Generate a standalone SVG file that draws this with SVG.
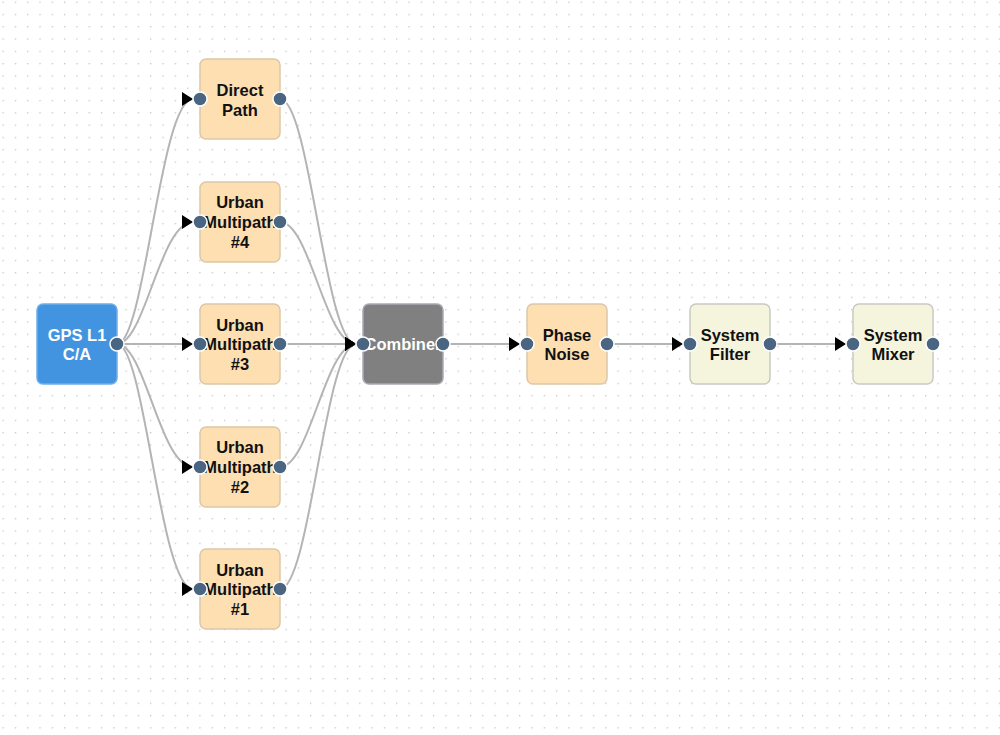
<svg xmlns="http://www.w3.org/2000/svg" width="1000" height="735" viewBox="0 0 1000 735">
<defs>
<pattern id="grid" x="2.5" y="1.5" width="12.3" height="12.3" patternUnits="userSpaceOnUse">
<circle cx="0.6" cy="0.6" r="0.75" fill="#c4c4c4"/>
</pattern>
<marker id="arr" markerUnits="userSpaceOnUse" markerWidth="12" markerHeight="16" refX="11" refY="7" orient="auto">
<path d="M0,0 L11,7 L0,14 Z" fill="#000"/>
</marker>
<style>
.n rect{stroke-width:1.5}
.orange rect{fill:#fddfb1;stroke:#dcc8a8}
.beige rect{fill:#f5f5dd;stroke:#c9c9c4}
.blue rect{fill:#4294e0;stroke:#6eaee9}
.gray rect{fill:#808080;stroke:#a9aab4}
.n text{font-family:"Liberation Sans",Arial,sans-serif;font-weight:bold;font-size:16.5px;text-anchor:middle;fill:#111}
.blue text,.gray text{fill:#fff}
.port{fill:#4a6581;stroke:#fff;stroke-width:1.5}
.c path{fill:none;stroke:#b4b4b4;stroke-width:2;marker-end:url(#arr)}
</style>
</defs>
<rect width="1000" height="735" fill="#fff"/>
<rect width="1000" height="735" fill="url(#grid)"/>
<g id="connectors" class="c">
<path d="M117,344 C145,344 160,99 193,99"/>
<path d="M117,344 C145,344 160,222 193,222"/>
<path d="M117,344 L193,344"/>
<path d="M117,344 C145,344 160,467 193,467"/>
<path d="M117,344 C145,344 160,589 193,589"/>
<path d="M280,99 C310,99 325,344 356,344"/>
<path d="M280,222 C310,222 325,344 356,344"/>
<path d="M280,344 L356,344"/>
<path d="M280,467 C310,467 325,344 356,344"/>
<path d="M280,589 C310,589 325,344 356,344"/>
<path d="M443,344 L520,344"/>
<path d="M607,344 L683,344"/>
<path d="M770,344 L846,344"/>
</g>
<g id="gps" class="n blue">
<rect x="37" y="304" width="80" height="80" rx="6"/>
<text x="77" y="341">GPS L1</text>
<text x="77" y="360">C/A</text>
<circle class="port" cx="117" cy="344" r="7"/>
</g>
<g id="direct" class="n orange">
<rect x="200" y="59" width="80" height="80" rx="6"/>
<text x="240" y="96">Direct</text>
<text x="240" y="116">Path</text>
<circle class="port" cx="200" cy="99" r="7"/>
<circle class="port" cx="280" cy="99" r="7"/>
</g>
<g id="um4" class="n orange">
<rect x="200" y="182" width="80" height="80" rx="6"/>
<text x="240" y="208">Urban</text>
<text x="240" y="228">Multipath</text>
<text x="240" y="248">#4</text>
<circle class="port" cx="200" cy="222" r="7"/>
<circle class="port" cx="280" cy="222" r="7"/>
</g>
<g id="um3" class="n orange">
<rect x="200" y="304" width="80" height="80" rx="6"/>
<text x="240" y="331">Urban</text>
<text x="240" y="350">Multipath</text>
<text x="240" y="370">#3</text>
<circle class="port" cx="200" cy="344" r="7"/>
<circle class="port" cx="280" cy="344" r="7"/>
</g>
<g id="um2" class="n orange">
<rect x="200" y="427" width="80" height="80" rx="6"/>
<text x="240" y="453">Urban</text>
<text x="240" y="473">Multipath</text>
<text x="240" y="493">#2</text>
<circle class="port" cx="200" cy="467" r="7"/>
<circle class="port" cx="280" cy="467" r="7"/>
</g>
<g id="um1" class="n orange">
<rect x="200" y="549" width="80" height="80" rx="6"/>
<text x="240" y="576">Urban</text>
<text x="240" y="595">Multipath</text>
<text x="240" y="615">#1</text>
<circle class="port" cx="200" cy="589" r="7"/>
<circle class="port" cx="280" cy="589" r="7"/>
</g>
<g id="combiner" class="n gray">
<rect x="363" y="304" width="80" height="80" rx="6"/>
<text x="403" y="350">Combiner</text>
<circle class="port" cx="363" cy="344" r="7"/>
<circle class="port" cx="443" cy="344" r="7"/>
</g>
<g id="phase" class="n orange">
<rect x="527" y="304" width="80" height="80" rx="6"/>
<text x="567" y="341">Phase</text>
<text x="567" y="360">Noise</text>
<circle class="port" cx="527" cy="344" r="7"/>
<circle class="port" cx="607" cy="344" r="7"/>
</g>
<g id="filter" class="n beige">
<rect x="690" y="304" width="80" height="80" rx="6"/>
<text x="730" y="341">System</text>
<text x="730" y="360">Filter</text>
<circle class="port" cx="690" cy="344" r="7"/>
<circle class="port" cx="770" cy="344" r="7"/>
</g>
<g id="mixer" class="n beige">
<rect x="853" y="304" width="80" height="80" rx="6"/>
<text x="893" y="341">System</text>
<text x="893" y="360">Mixer</text>
<circle class="port" cx="853" cy="344" r="7"/>
<circle class="port" cx="933" cy="344" r="7"/>
</g>
</svg>
